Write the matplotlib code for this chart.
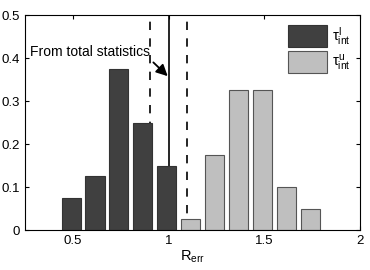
import matplotlib.pyplot as plt

plt.rcParams['font.family'] = ['Liberation Sans', 'DejaVu Sans']
plt.rcParams['mathtext.fontset'] = 'custom'
plt.rcParams['mathtext.rm'] = 'Liberation Sans'
plt.rcParams['mathtext.it'] = 'Liberation Sans'

# bin centres and relative frequencies
lower_x = [0.49, 0.615, 0.74, 0.865, 0.99]
lower_h = [0.075, 0.125, 0.375, 0.25, 0.15]
upper_x = [1.115, 1.24, 1.365, 1.49, 1.615, 1.74]
upper_h = [0.025, 0.175, 0.325, 0.325, 0.1, 0.05]

total_val = 1.0
dashed_vals = [0.9, 1.095]

fig = plt.figure(figsize=(3.7, 2.7), dpi=100)
ax = fig.add_axes([0.068, 0.148, 0.905, 0.796])

ax.axvline(total_val, color="black", lw=1.2, zorder=1)
for v in dashed_vals:
    ax.axvline(v, color="black", lw=1.2, ls=(0, (5, 5)), zorder=1)

ax.bar(lower_x, lower_h, width=0.1, color="#404040", edgecolor="#333333",
       lw=0.8, zorder=2, label=r"$\tau^{l}_{int}$")
ax.bar(upper_x, upper_h, width=0.1, color="#bfbfbf", edgecolor="#555555",
       lw=0.8, zorder=2, label=r"$\tau^{u}_{int}$")

# annotation text and a short arrow to the solid line
ax.text(0.905, 0.415, "From total statistics", ha="right", va="center",
        fontsize=10)
ax.annotate("", xy=(0.995, 0.358), xytext=(0.92, 0.39),
            arrowprops=dict(arrowstyle="-|>", color="black", lw=1.3,
                            mutation_scale=17, shrinkA=0, shrinkB=0))

ax.set_xlim(0.25, 2)
ax.set_ylim(0, 0.5)
ax.set_xticks([0.5, 1, 1.5, 2])
ax.set_xticklabels(["0.5", "1", "1.5", "2"])
ax.set_yticks([0, 0.1, 0.2, 0.3, 0.4, 0.5])
ax.set_yticklabels(["0", "0.1", "0.2", "0.3", "0.4", "0.5"])
ax.tick_params(direction="in", top=True, right=True, labelsize=9.5, length=3)
ax.set_xlabel(r"R$_{\rm err}$", fontsize=10.5, labelpad=1)

ax.legend(loc="upper right", frameon=False, fontsize=10.5, handlelength=2.7,
          handleheight=1.95, handletextpad=0.35, labelspacing=0.3,
          borderaxespad=0.25)

plt.savefig("out.png", dpi=100)
